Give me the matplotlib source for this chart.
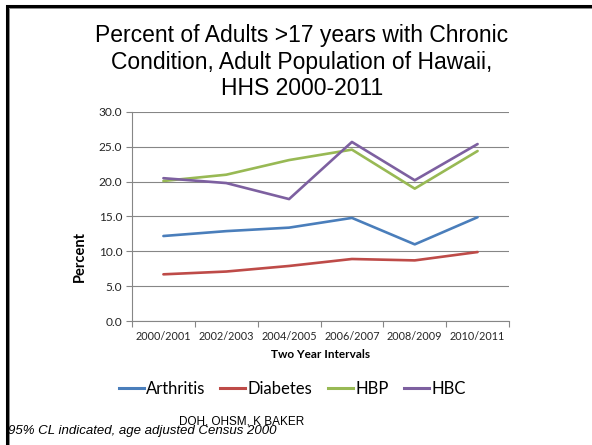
import matplotlib
matplotlib.use("Agg")
import matplotlib.pyplot as plt
from matplotlib.lines import Line2D
import numpy as np

categories = ["2000/2001", "2002/2003", "2004/2005", "2006/2007", "2008/2009", "2010/2011"]
arthritis = [12.2, 12.9, 13.4, 14.8, 11.0, 14.9]
diabetes = [6.7, 7.1, 7.9, 8.9, 8.7, 9.9]
hbp = [20.1, 21.0, 23.1, 24.6, 19.0, 24.4]
hbc = [20.5, 19.8, 17.5, 25.7, 20.2, 25.4]
series_names = ["Arthritis", "Diabetes", "HBP", "HBC"]
yticks = [0, 5, 10, 15, 20, 25, 30]

colors = ["#4A7EBB", "#BE4B48", "#98B954", "#7D60A0"]
W, H = 592, 445
fig = plt.figure(figsize=(W / 100, H / 100), dpi=100)
fig.patch.set_facecolor("white")

ax = fig.add_axes([132 / W, 1 - 321 / H, (509 - 132) / W, (321 - 112) / H])
x = np.arange(len(categories))
for vals, name, c in zip([arthritis, diabetes, hbp, hbc], series_names, colors):
    ax.plot(x, vals, color=c, lw=1.9, label=name, solid_capstyle="round", solid_joinstyle="round")

ax.set_xlim(-0.5, len(categories) - 0.5)
ax.set_ylim(0, 30)
ax.set_yticks(yticks)
ax.set_yticklabels([f"{v:.1f}" for v in yticks])
ax.set_xticks(x)
ax.set_xticklabels(categories)
ax.set_xticks(np.arange(-0.5, len(categories), 1.0), minor=True)
ax.tick_params(axis="x", which="major", length=0, pad=7, labelsize=7.8, colors="#262626")
ax.tick_params(axis="x", which="minor", length=4, color="#868686", width=0.8)
ax.tick_params(axis="y", which="major", length=4, color="#868686", width=0.8, labelsize=8.6, pad=3)
ax.tick_params(axis="y", colors="#868686", labelcolor="#262626")
for lab in ax.get_xticklabels() + ax.get_yticklabels():
    lab.set_family("Lato")
ax.grid(axis="y", color="#868686", lw=0.8)
ax.set_axisbelow(True)
for s in ["top", "right"]:
    ax.spines[s].set_visible(False)
for s in ["left", "bottom"]:
    ax.spines[s].set_color("#868686")
    ax.spines[s].set_linewidth(0.8)

ax.set_ylabel("Percent", fontsize=10.5, fontweight="bold", family="Lato")
ax.yaxis.set_label_coords((87 - 132) / 377, (321 - 257) / 209)
ax.set_xlabel("Two Year Intervals", fontsize=8.5, fontweight="bold", family="Lato", labelpad=5)

fig.text(302 / W, 1 - 62 / H, "Percent of Adults >17 years with Chronic\nCondition, Adult Population of Hawaii,\nHHS 2000-2011",
         ha="center", va="center", fontsize=16.5, family="Liberation Sans", linespacing=1.2)

handles = [Line2D([0], [0], color=c, lw=2.2) for c in colors]
fig.legend(handles, series_names, loc="center", bbox_to_anchor=(292 / W, 1 - 389 / H), ncol=4,
           frameon=False, prop={"family": "Lato", "size": 12}, handlelength=1.5, handletextpad=0.15,
           columnspacing=0.9)

fig.text(242 / W, 1 - 421 / H, "DOH, OHSM, K BAKER", ha="center", va="center", fontsize=8.5, family="Liberation Sans")
fig.text(8 / W, 1 - 431 / H, "95% CL indicated, age adjusted Census 2000", ha="left", va="center",
         fontsize=9.5, style="italic", family="Liberation Sans")

# slide border
fig.add_artist(Line2D([7 / W, 7 / W, 1.0], [0.0, 1 - 6 / H, 1 - 6 / H], transform=fig.transFigure,
                      color="black", lw=2.2, solid_joinstyle="miter"))
fig.add_artist(Line2D([8.5 / W, 8.5 / W, 1.0], [0.0, 1 - 7.5 / H, 1 - 7.5 / H], transform=fig.transFigure,
                      color="#777777", lw=0.6, solid_joinstyle="miter"))

fig.savefig("out.png", dpi=100)
